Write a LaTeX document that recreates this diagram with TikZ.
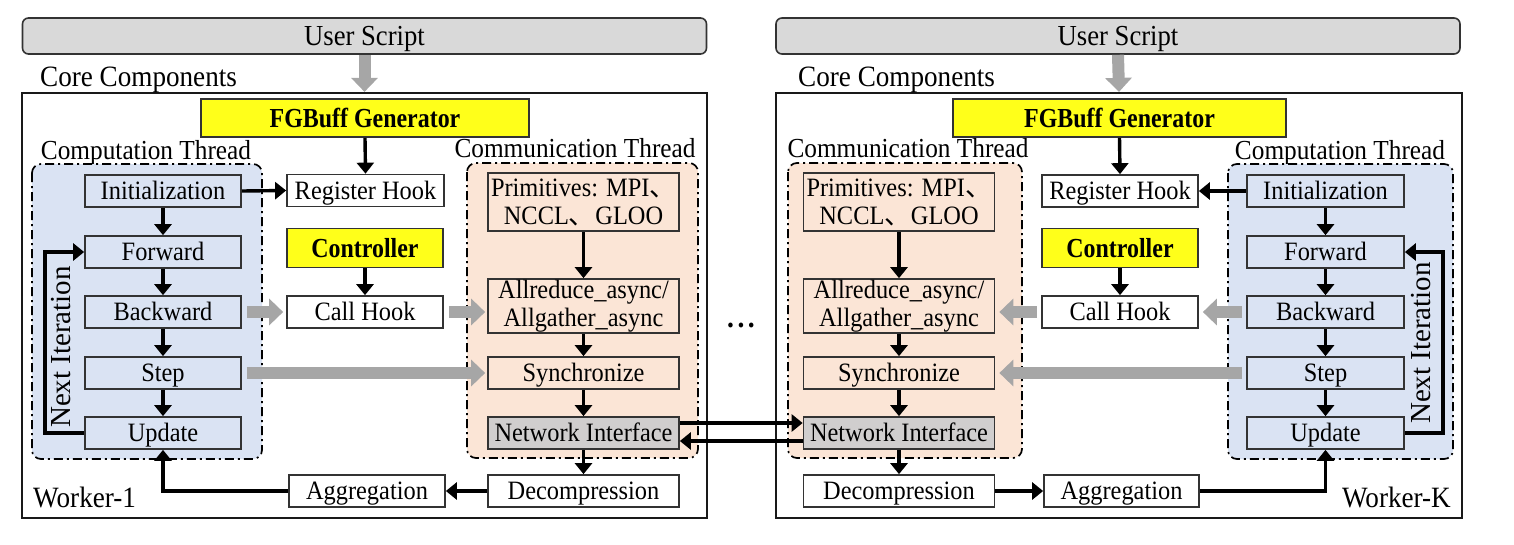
\documentclass[tikz,border=0pt]{standalone}
\usepackage{fontspec}
\setmainfont[FakeStretch=0.92]{Liberation Serif}
\newfontfamily\plainserif{Liberation Serif}
\newfontfamily\condfont[FakeStretch=0.87]{Liberation Serif}
\newfontfamily\cjkf{Noto Sans CJK SC}
\usetikzlibrary{arrows.meta}
\definecolor{bluefill}{HTML}{DAE3F3}
\definecolor{peach}{HTML}{FBE5D6}
\definecolor{ylw}{HTML}{FFFF1A}
\definecolor{niGray}{HTML}{D0CECE}
\definecolor{usGray}{HTML}{D9D9D9}
\definecolor{arrGray}{HTML}{A6A6A6}
\definecolor{bord}{HTML}{333333}
\tikzset{
  box/.style={draw=bord, line width=1.7pt, inner sep=0pt, minimum height=32pt,
    font=\fontsize{26.5}{28}\selectfont, align=center},
  one/.style={text height=18pt, text depth=1pt},
  bbox/.style={box, one, fill=bluefill, minimum width=156pt},
  wbox/.style={box, one, fill=white, minimum width=156pt},
  pbox/.style={box, fill=peach, minimum width=191pt},
  pbox1/.style={box, one, fill=peach, minimum width=191pt},
  gbox/.style={box, one, fill=niGray, minimum width=191pt},
  ybox/.style={box, fill=ylw, font=\condfont\bfseries\fontsize{27.5}{30}\selectfont},
  usbox/.style={draw=bord, line width=1.6pt, fill=usGray, rounded corners=6pt,
    minimum height=36pt, inner sep=0pt, text height=20pt, text depth=2pt,
    font=\fontsize{29}{30}\selectfont},
  corebox/.style={draw=black!90, line width=2.2pt, minimum width=685pt,
    minimum height=425pt, inner sep=0pt},
  region/.style={draw=black, line width=1.7pt, dash pattern=on 9pt off 4pt on 2pt off 4pt,
    rounded corners=9pt},
  lbl/.style={inner sep=0pt, font=\fontsize{27.5}{30}\selectfont},
  biglbl/.style={inner sep=0pt, font=\fontsize{29.5}{32}\selectfont},
  iterlbl/.style={inner sep=0pt, rotate=90, font=\plainserif\fontsize{29}{30}\selectfont},
  arr/.style={line width=3.4pt, -{Triangle[length=11pt,width=17pt]}},
  garr/.style={draw=arrGray, line width=12pt, -{Triangle[length=14pt,width=26pt]}},
}
\begin{document}
\begin{tikzpicture}[x=1pt,y=-1pt]
\useasboundingbox (0,0) rectangle (1514,544);

% ================= Worker-1 =================
\node[corebox] (core1) at (364.5,305.5) {};
\node[usbox, minimum width=684pt] (us1) at (364.5,36) {User Script};
\draw[garr] (us1.south) -- (core1.north);
\node[biglbl, anchor=base west] (cc1) at (40,86) {Core Components};
\node[lbl, anchor=base] (ct1) at (146,159) {Computation Thread};
\node[lbl, anchor=base] (mt1) at (575,157) {Communication Thread};
\draw[region, fill=bluefill] (32,164) rectangle (262,459);
\draw[region, fill=peach] (467,163) rectangle (698,458);

\node[ybox, minimum width=328pt, minimum height=38pt] (fg1) at (365,118) {FGBuff Generator};
\node[bbox] (init1) at (163,191) {Initialization};
\node[wbox, minimum width=157pt] (reg1) at (365.5,190.5) {Register Hook};
\node[bbox] (fwd1) at (163,252) {Forward};
\node[ybox, minimum width=156pt, minimum height=39pt] (ctl1) at (365,248) {Controller};
\node[bbox] (bwd1) at (163,312) {Backward};
\node[wbox] (call1) at (365,312) {Call Hook};
\node[bbox] (step1) at (163,373) {Step};
\node[bbox] (upd1) at (163,433) {Update};
\node[pbox, minimum height=58pt] (prim1) at (583.5,202) {Primitives: MPI{\cjkf 、}\\NCCL{\cjkf 、}GLOO};
\node[pbox, minimum height=54pt] (allr1) at (583.5,306) {Allreduce\_async/\\Allgather\_async};
\node[pbox1] (sync1) at (583.5,373) {Synchronize};
\node[gbox] (ni1) at (583.5,433) {Network Interface};
\node[wbox, minimum width=191pt] (dec1) at (583.5,491) {Decompression};
\node[wbox] (agg1) at (367,491) {Aggregation};
\node[biglbl, anchor=base west] (w1) at (33,507) {Worker-1};
\node[iterlbl] (it1) at (61,347) {Next Iteration};

\draw[arr] (fg1.south) -- (reg1.north);
\draw[arr] (init1.east) -- (reg1.west);
\draw[arr] (ctl1.south) -- (call1.north);
\draw[arr] (init1) -- (fwd1);
\draw[arr] (fwd1) -- (bwd1);
\draw[arr] (bwd1) -- (step1);
\draw[arr] (step1) -- (upd1);
\draw[arr] (prim1) -- (allr1);
\draw[arr] (allr1) -- (sync1);
\draw[arr] (sync1) -- (ni1);
\draw[arr] (ni1) -- (dec1);
\draw[arr] (dec1.west) -- (agg1.east);
\draw[arr] (agg1.west) -| (upd1.south);
\coordinate (lp1) at (45,433);
\draw[arr] (upd1.west) -- (lp1) |- (fwd1.west);
\draw[garr, shorten <=5pt, shorten >=3pt] (bwd1) -- (call1);
\draw[garr, shorten <=5pt, shorten >=2pt] (call1.east) -- (call1.east -| allr1.west);
\draw[garr, shorten <=5pt, shorten >=2pt] (step1) -- (sync1);

% ================= Worker-K =================
\node[corebox, minimum width=686pt] (core2) at (1119,305.5) {};
\node[usbox, minimum width=684pt] (us2) at (1118,36) {User Script};
\draw[garr] (us2.south) -- (core2.north);
\node[biglbl, anchor=base west] (cc2) at (798,86) {Core Components};
\node[lbl, anchor=base] (mt2) at (908,157) {Communication Thread};
\node[lbl, anchor=base] (ct2) at (1340,159) {Computation Thread};
\draw[region, fill=peach] (788,163) rectangle (1022,458);
\draw[region, fill=bluefill] (1228,164) rectangle (1453,459);

\node[ybox, minimum width=333pt, minimum height=38pt] (fg2) at (1119.5,118) {FGBuff Generator};
\node[pbox, minimum height=58pt] (prim2) at (899,202) {Primitives: MPI{\cjkf 、}\\NCCL{\cjkf 、}GLOO};
\node[wbox] (reg2) at (1120,191) {Register Hook};
\node[bbox, minimum width=157pt] (init2) at (1325.5,191) {Initialization};
\node[ybox, minimum width=156pt, minimum height=39pt] (ctl2) at (1120,248) {Controller};
\node[bbox, minimum width=157pt] (fwd2) at (1325.5,252) {Forward};
\node[pbox, minimum height=54pt] (allr2) at (899,306) {Allreduce\_async/\\Allgather\_async};
\node[wbox] (call2) at (1120,312) {Call Hook};
\node[bbox, minimum width=157pt] (bwd2) at (1325.5,312) {Backward};
\node[pbox1] (sync2) at (899,373) {Synchronize};
\node[bbox, minimum width=157pt] (step2) at (1325.5,373) {Step};
\node[gbox] (ni2) at (899,433) {Network Interface};
\node[bbox, minimum width=157pt] (upd2) at (1325.5,433) {Update};
\node[wbox, minimum width=191pt] (dec2) at (899,491) {Decompression};
\node[wbox, minimum width=155pt] (agg2) at (1121.5,491) {Aggregation};
\node[biglbl, anchor=base east] (wk) at (1451,507) {Worker-K};
\node[iterlbl] (it2) at (1421,343) {Next Iteration};

\draw[arr] (fg2.south) -- (reg2.north);
\draw[arr] (init2.west) -- (reg2.east);
\draw[arr] (ctl2.south) -- (call2.north);
\draw[arr] (init2) -- (fwd2);
\draw[arr] (fwd2) -- (bwd2);
\draw[arr] (bwd2) -- (step2);
\draw[arr] (step2) -- (upd2);
\draw[arr] (prim2) -- (allr2);
\draw[arr] (allr2) -- (sync2);
\draw[arr] (sync2) -- (ni2);
\draw[arr] (ni2) -- (dec2);
\draw[arr] (dec2.east) -- (agg2.west);
\draw[arr] (agg2.east) -| (upd2.south);
\coordinate (lp2) at (1443,433);
\draw[arr] (upd2.east) -- (lp2) |- (fwd2.east);
\draw[garr, shorten <=4pt, shorten >=4pt] (bwd2) -- (call2);
\draw[garr, shorten <=4pt, shorten >=4pt] (call2.west) -- (call2.west -| allr2.east);
\draw[garr, shorten <=4pt, shorten >=4pt] (step2) -- (sync2);

% ================= between workers =================
\draw[arr] ([yshift=10pt]ni1.east) -- ([yshift=10pt]ni2.west);
\draw[arr] ([yshift=-8pt]ni2.west) -- ([yshift=-8pt]ni1.east);
\node[inner sep=0pt, anchor=base, font=\bfseries\fontsize{30}{30}\selectfont] (dots) at (741,327) {.\kern3.5pt.\kern3.5pt.};
\end{tikzpicture}
\end{document}
